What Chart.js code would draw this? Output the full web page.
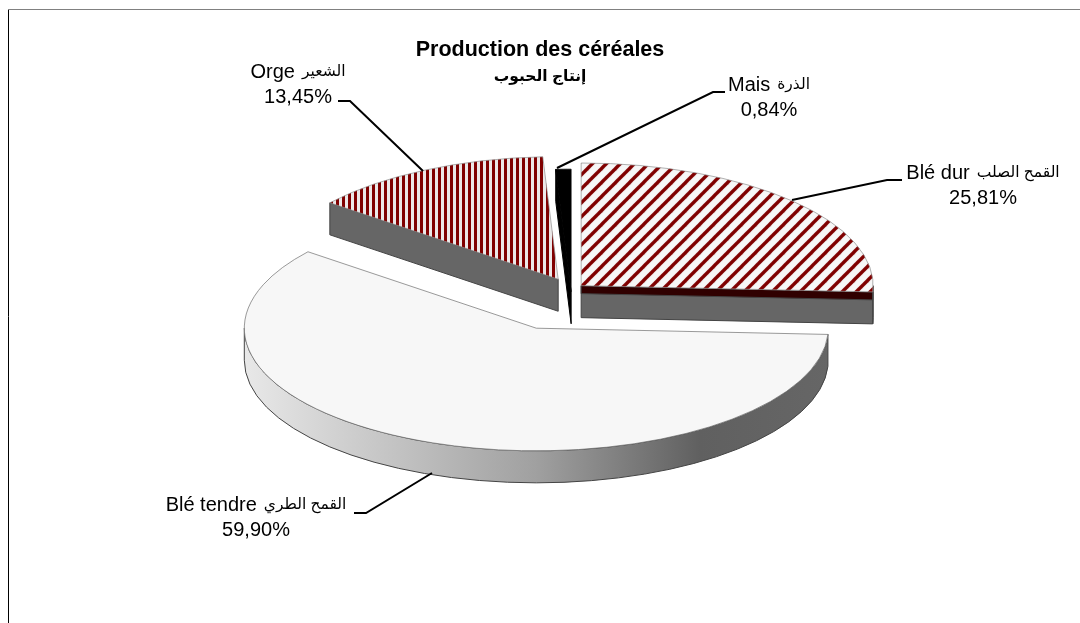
<!DOCTYPE html>
<html>
<head>
<meta charset="utf-8">
<title>Production des céréales</title>
<script src="https://cdn.jsdelivr.net/npm/chart.js@4"></script>
<style>
    body { margin: 0; background: #ffffff; }
    canvas { display: block; }
</style>
</head>
<body>
<canvas id="cerealChart" width="1080" height="623"></canvas>
<script>
const categories = ['Blé dur', 'Blé tendre', 'Orge', 'Mais'];
const arabicNames = ['القمح الصلب', 'القمح الطري', 'الشعير', 'الذرة'];
const shares = [25.81, 59.90, 13.45, 0.84];
const titleFr = 'Production des céréales';
const titleAr = 'إنتاج الحبوب';

// 3D look of the pie
const TILT = 0.42;
const DEPTH = 32;
const RADIUS = 292;
const CENTER_SHIFT = 31;
const explode = [14, 98, 28, -5];
const FONT = '"Liberation Sans", "DejaVu Sans", sans-serif';

// label text centre and leader line for each slice
const labelBoxes = [
    { x: 983, y: 173, line: [[902, 180], [887, 180], [792, 200]] },
    { x: 256, y: 505, line: [[354, 513], [366, 513], [432, 473]] },
    { x: 298, y: 72, line: [[338, 101], [350, 101], [423, 171]] },
    { x: 769, y: 85, line: [[725, 92], [713, 92], [557, 168]] }
];

function makeStripes(size, paint) {
    const tile = document.createElement('canvas');
    tile.width = size;
    tile.height = size;
    paint(tile.getContext('2d'), size);
    const pattern = tile.getContext('2d').createPattern(tile, 'repeat');
    // undo the tilt so that the stripes stay regular on screen
    pattern.setTransform(new DOMMatrix().scale(1, 1 / TILT));
    return pattern;
}

const diagonalHatch = makeStripes(14, (c, s) => {
    c.fillStyle = '#f7f7f7';
    c.fillRect(0, 0, s, s);
    c.strokeStyle = '#800000';
    c.lineWidth = 3.4;
    [-s, 0, s].forEach(shift => {
        c.beginPath();
        c.moveTo(-2 + shift, s + 2);
        c.lineTo(s + 2 + shift, -2);
        c.stroke();
    });
});

const verticalHatch = makeStripes(6, (c, s) => {
    c.fillStyle = '#ece8e8';
    c.fillRect(0, 0, s, s);
    c.fillStyle = '#800000';
    c.fillRect(0, 0, 3, s);
});

function flatY(y, chart) {
    const area = chart.chartArea;
    const pivot = (area.top + area.bottom) / 2;
    return pivot + (y - pivot) * TILT;
}

function rimGradient(ctx, left, right) {
    const g = ctx.createLinearGradient(left, 0, right, 0);
    g.addColorStop(0, '#e8e8e8');
    g.addColorStop(0.5, '#a0a0a0');
    g.addColorStop(0.78, '#606060');
    g.addColorStop(1, '#666666');
    return g;
}

function drawEdgeWall(ctx, x, y, angle, height, fill) {
    const ex = x + Math.cos(angle) * RADIUS;
    const ey = y + Math.sin(angle) * RADIUS * TILT;
    ctx.beginPath();
    ctx.moveTo(x, y);
    ctx.lineTo(ex, ey);
    ctx.lineTo(ex, ey + height);
    ctx.lineTo(x, y + height);
    ctx.closePath();
    ctx.fillStyle = fill;
    ctx.fill();
    ctx.stroke();
}

function drawWalls(chart) {
    const ctx = chart.ctx;
    const arcs = chart.getDatasetMeta(0).data;
    ctx.save();
    ctx.lineWidth = 1;
    arcs.forEach((arc, i) => {
        const x = arc.x;
        const y = flatY(arc.y, chart);
        const isBlack = i === 3;
        const wallFill = isBlack ? '#000000' : '#666666';
        ctx.strokeStyle = isBlack ? '#000000' : '#444444';

        if (Math.cos(arc.startAngle) < -0.01) {
            drawEdgeWall(ctx, x, y, arc.startAngle, DEPTH, wallFill);
        }
        if (Math.cos(arc.endAngle) > 0.01) {
            drawEdgeWall(ctx, x, y, arc.endAngle, DEPTH, wallFill);
            // dark strip under the hatched top of the first slice
            drawEdgeWall(ctx, x, y, arc.endAngle, 8, '#300000');
        }

        // outer rim, only the front half of the disc can be seen
        const from = Math.max(arc.startAngle, 0);
        const to = Math.min(arc.endAngle, Math.PI);
        if (to > from) {
            ctx.beginPath();
            ctx.ellipse(x, y, RADIUS, RADIUS * TILT, 0, from, to);
            ctx.ellipse(x, y + DEPTH, RADIUS, RADIUS * TILT, 0, to, from, true);
            ctx.closePath();
            ctx.fillStyle = i === 1 ? rimGradient(ctx, x - RADIUS, x + RADIUS) : wallFill;
            ctx.fill();
            ctx.stroke();
        }
    });
    ctx.restore();
}

function drawLabelLine(ctx, latin, arabic, cx, y) {
    const gap = 7;
    ctx.font = '20px ' + FONT;
    const latinWidth = ctx.measureText(latin).width;
    ctx.font = '15.5px ' + FONT;
    const arabicWidth = ctx.measureText(arabic).width;
    const left = cx - (latinWidth + gap + arabicWidth) / 2;
    ctx.textAlign = 'left';
    ctx.font = '20px ' + FONT;
    ctx.fillText(latin, left, y);
    ctx.font = '15.5px ' + FONT;
    ctx.fillText(arabic, left + latinWidth + gap, y);
}

const pie3dPlugin = {
    id: 'pie3d',
    afterDatasetsUpdate(chart) {
        // pull the slices apart; the built-in offset also grows the radius
        chart.getDatasetMeta(0).data.forEach((arc, i) => {
            const mid = (arc.startAngle + arc.endAngle) / 2;
            arc.x += CENTER_SHIFT + Math.cos(mid) * explode[i];
            arc.y += Math.sin(mid) * explode[i];
        });
    },
    beforeDraw(chart) {
        const ctx = chart.ctx;
        ctx.save();
        ctx.lineWidth = 1;
        ctx.strokeStyle = '#808080';
        ctx.beginPath();
        ctx.moveTo(8, 9.5);
        ctx.lineTo(1080, 9.5);
        ctx.stroke();
        ctx.strokeStyle = '#000000';
        ctx.beginPath();
        ctx.moveTo(8.5, 10);
        ctx.lineTo(8.5, 623);
        ctx.stroke();
        ctx.restore();
    },
    beforeDatasetDraw(chart) {
        drawWalls(chart);
        const area = chart.chartArea;
        const pivot = (area.top + area.bottom) / 2;
        chart.ctx.save();
        chart.ctx.translate(0, pivot);
        chart.ctx.scale(1, TILT);
        chart.ctx.translate(0, -pivot);
    },
    afterDatasetDraw(chart) {
        chart.ctx.restore();
    },
    afterDraw(chart) {
        const ctx = chart.ctx;
        ctx.save();
        ctx.fillStyle = '#000000';
        ctx.strokeStyle = '#000000';
        ctx.lineWidth = 2;
        ctx.textBaseline = 'middle';
        ctx.direction = 'ltr';
        labelBoxes.forEach((box, i) => {
            drawLabelLine(ctx, categories[i], arabicNames[i], box.x, box.y);
            ctx.font = '20px ' + FONT;
            ctx.textAlign = 'center';
            ctx.fillText(shares[i].toFixed(2).replace('.', ',') + '%', box.x, box.y + 25);
            ctx.beginPath();
            box.line.forEach((p, k) => k ? ctx.lineTo(p[0], p[1]) : ctx.moveTo(p[0], p[1]));
            ctx.stroke();
        });
        ctx.restore();
    }
};

new Chart(document.getElementById('cerealChart'), {
    type: 'pie',
    data: {
        labels: categories,
        datasets: [{
            data: shares,
            backgroundColor: [diagonalHatch, '#f7f7f7', verticalHatch, '#000000'],
            borderColor: ['#909090', '#707070', '#909090', '#000000'],
            borderWidth: 1,
            clip: false
        }]
    },
    plugins: [pie3dPlugin],
    options: {
        responsive: false,
        animation: false,
        events: [],
        radius: RADIUS,
        layout: { padding: { top: 37, left: 0, right: 0, bottom: 130 } },
        plugins: {
            legend: { display: false },
            tooltip: { enabled: false },
            title: {
                display: true,
                text: titleFr,
                color: '#000000',
                font: { family: FONT, size: 21.5, weight: 'bold' },
                padding: { top: 0, bottom: 5 }
            },
            subtitle: {
                display: true,
                text: titleAr,
                color: '#000000',
                font: { family: FONT, size: 15.5, weight: 'bold' },
                padding: { top: 0, bottom: 0 }
            }
        }
    }
});
</script>
</body>
</html>
